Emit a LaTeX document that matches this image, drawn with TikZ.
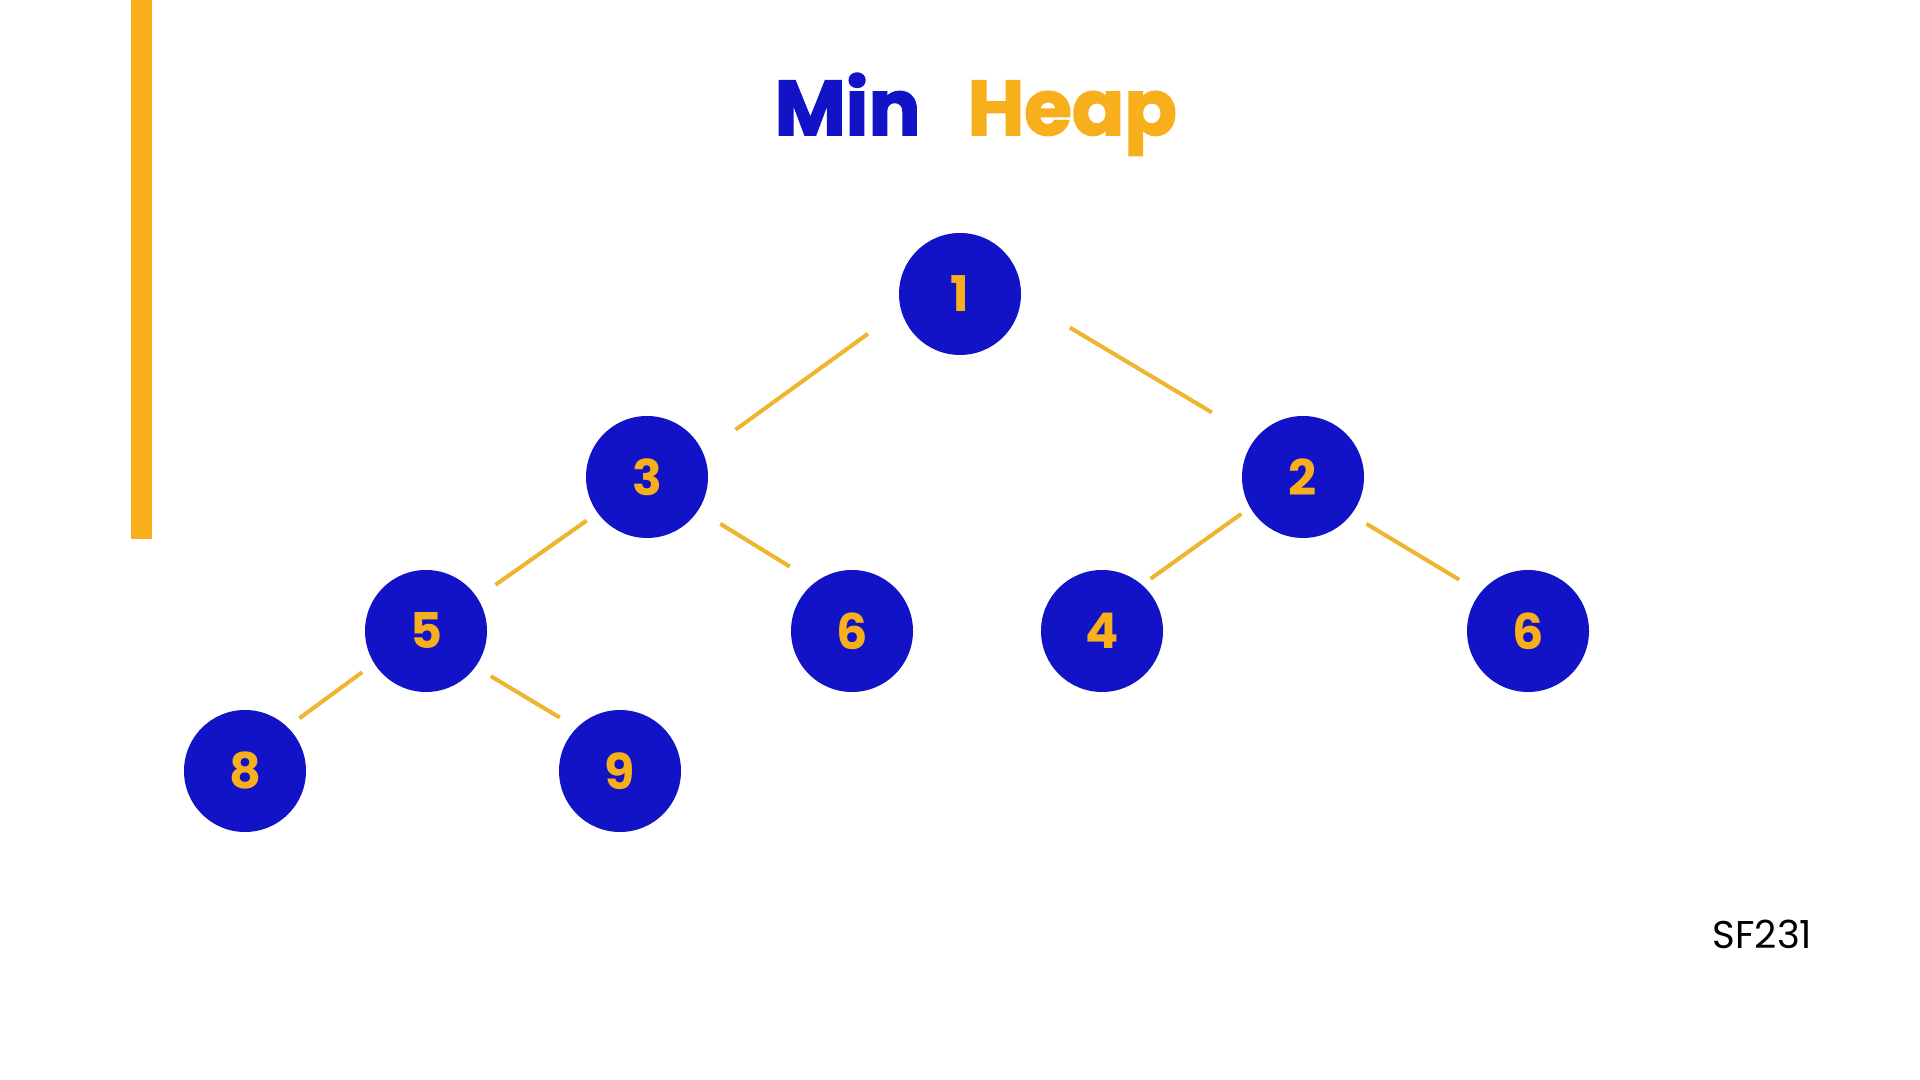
\documentclass[tikz,border=0pt]{standalone}
\usepackage{fontspec}
\setmainfont{Poppins}
\newfontfamily\titlefont{Poppins}[BoldFeatures={FakeBold=2}]
\definecolor{heapblue}{HTML}{1212C6}
\definecolor{heapgold}{HTML}{F7AF1C}
\definecolor{edgegold}{HTML}{EEB62E}

\begin{document}
\begin{tikzpicture}[
	key/.style={circle, fill=heapblue, minimum size=1.22cm, inner sep=0pt, outer sep=0pt,
		text=heapgold, font=\bfseries\fontsize{14}{14}\selectfont},
	edge/.style={edgegold, line width=1.15pt}]
	\useasboundingbox (0,0) rectangle (19.2,10.8);
	\fill[white] (0,0) rectangle (19.2,10.8);

	% side bar
	\fill[heapgold] (1.31,10.8) rectangle (1.52,5.41);

	% title
	\node[anchor=base west, inner sep=0pt, text=heapblue, font=\titlefont\bfseries\fontsize{22}{22}\selectfont] (tmin) at (7.74,9.45) {Min};
	\node[anchor=base west, inner sep=0pt, text=heapgold, font=\titlefont\bfseries\fontsize{22}{22}\selectfont] (theap) at (9.67,9.45) {Heap};

	% tree
	\newcommand {\rowc}{4.49}
	\node[key] (n1) at (9.60,7.86) {1};
	\node[key] (n3) at (6.47,6.03) {3};
	\node[key] (n2) at (13.03,6.03) {2};
	\node[key] (n5) at (4.26,\rowc) {5};
	\node[key] (n6) at (8.52,\rowc) {6};
	\node[key] (n4) at (11.02,\rowc) {4};
	\node[key] (n6b) at (15.28,\rowc) {6};
	\node[key] (n8) at (2.45,3.09) {8};
	\node[key] (n9) at (6.20,3.09) {9};

	\draw[edge, shorten <=0.41cm, shorten >=0.40cm] (n1.195) -- (n3.23);
	\draw[edge, shorten <=0.57cm, shorten >=0.51cm] (n1.356) -- (n2.141);
	\draw[edge, shorten <=0.135cm, shorten >=0.225cm] (n3.216) -- (n5.33);
	\draw[edge, shorten <=0.26cm, shorten >=0.30cm] (n3.327) -- (n6.127);
	\draw[edge, shorten <=0.11cm, shorten >=0.105cm] (n2.210) -- (n4.49);
	\draw[edge, shorten <=0.18cm, shorten >=0.25cm] (n2.322) -- (n6b.141);
	\draw[edge, shorten <=0.15cm, shorten >=0.15cm] (n5.212) -- (n8.46);
	\draw[edge, shorten <=0.18cm, shorten >=0.20cm] (n5.324) -- (n9.135);

	% footer
	\node[anchor=base west, inner sep=0pt, font=\fontsize{11}{11}\selectfont] (code) at (17.12,1.31) {SF231};

\end{tikzpicture}
\end{document}
